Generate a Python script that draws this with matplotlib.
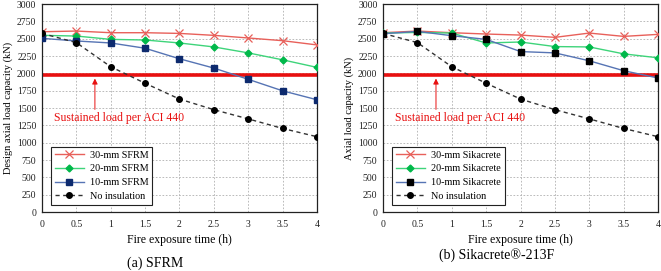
import matplotlib
matplotlib.use('Agg')
import matplotlib.pyplot as plt
import numpy as np

plt.rcParams.update({'font.family': 'serif',
                     'font.serif': ['Liberation Serif', 'DejaVu Serif'],
                     'font.size': 7,
                     'mathtext.fontset': 'stix'})

# Data
time_h = [0, 0.5, 1, 1.5, 2, 2.5, 3, 3.5, 4]

sfrm_30 = [2600, 2610, 2586, 2586, 2576, 2548, 2510, 2471, 2410]
sfrm_20 = [2548, 2538, 2490, 2481, 2438, 2381, 2295, 2195, 2086]
sfrm_10 = [2505, 2467, 2438, 2362, 2210, 2076, 1914, 1748, 1619]

sika_30 = [2586, 2610, 2586, 2567, 2552, 2519, 2581, 2533, 2562]
sika_20 = [2581, 2590, 2581, 2438, 2452, 2386, 2381, 2281, 2224]
sika_10 = [2571, 2605, 2543, 2490, 2314, 2295, 2181, 2038, 1933]

no_insulation = [2576, 2443, 2095, 1857, 1629, 1476, 1343, 1205, 1086]

sustained_load = 1975

x_ticks = [0, 0.5, 1, 1.5, 2, 2.5, 3, 3.5, 4]
x_tick_labels = ['0', '0.5', '1', '1.5', '2', '2.5', '3', '3.5', '4']
y_ticks = np.arange(0, 3001, 250)

# colours
c30 = '#e8605a'
c20 = '#3ed47a'
c20_mk = '#00b84a'
c10 = '#5674b4'
red_line = '#e81010'

fig = plt.figure(figsize=(6.61, 2.71), dpi=100)
ax1 = fig.add_axes([0.0635, 0.2177, 0.416, 0.7675])
ax2 = fig.add_axes([0.5795, 0.2177, 0.416, 0.7675])

panels = [
    (ax1, sfrm_30, sfrm_20, sfrm_10, 'SFRM', '#0d2a6e',
     'Design axial load capacity (kN)', '(a) SFRM', -0.245),
    (ax2, sika_30, sika_20, sika_10, 'Sikacrete', '#000000',
     'Axial load capacity (kN)', '(b) Sikacrete®-213F', -0.207),
]

for ax, s30, s20, s10, name, sq_color, ylab, caption, cap_y in panels:
    ax.axhline(sustained_load, color=red_line, linewidth=2.6, zorder=2)
    ax.plot(time_h, s30, color=c30, linewidth=1.0, marker='x',
            markersize=6, markeredgewidth=0.9, label='30-mm ' + name, zorder=3)
    ax.plot(time_h, s20, color=c20, linewidth=1.0, marker='D',
            markersize=3.5, markerfacecolor=c20_mk, markeredgecolor=c20_mk,
            label='20-mm ' + name, zorder=3)
    ax.plot(time_h, s10, color=c10, linewidth=1.0, marker='s',
            markersize=4.5, markerfacecolor=sq_color, markeredgecolor=sq_color,
            label='10-mm ' + name, zorder=3)
    ax.plot(time_h, no_insulation, color='#333333', linewidth=1.0,
            linestyle=(0, (3, 2.5)), marker='o', markersize=4,
            markerfacecolor='black', markeredgecolor='black',
            label='No insulation', zorder=3)

    ax.annotate('', xy=(0.77, sustained_load - 10), xytext=(0.77, 1440),
                arrowprops=dict(arrowstyle='-|>', color=red_line, lw=0.7,
                                mutation_scale=8), zorder=4)
    ax.text(0.17, 1350, 'Sustained load per ACI 440', color=red_line,
            fontsize=8.5, va='center', ha='left')

    ax.set_xlim(0, 4)
    ax.set_ylim(0, 3000)
    ax.set_xticks(x_ticks)
    ax.set_xticklabels(x_tick_labels)
    ax.set_yticks(y_ticks)
    ax.grid(True, color='#b0b0b0', linestyle=(0, (2, 2)), linewidth=0.6)
    ax.tick_params(length=0, colors='#222222')
    ax.tick_params(axis='x', pad=6)
    ax.tick_params(axis='y', pad=4)
    for sp in ax.spines.values():
        sp.set_color('#222222')
        sp.set_linewidth(0.9)
    ax.set_xlabel('Fire exposure time (h)', fontsize=8.5, labelpad=3)
    ax.set_ylabel(ylab, fontsize=7.5, labelpad=3)
    leg = ax.legend(loc='lower left', bbox_to_anchor=(0.015, 0.01),
                    fontsize=7.3, fancybox=False, framealpha=1,
                    edgecolor='#222222', handlelength=2.8, borderpad=0.4,
                    labelspacing=0.45, handletextpad=0.6)
    leg.get_frame().set_linewidth(0.8)
    ax.text(0.413, cap_y, caption, transform=ax.transAxes, ha='center',
            va='center', fontsize=10)

plt.savefig('out.png', dpi=100)
